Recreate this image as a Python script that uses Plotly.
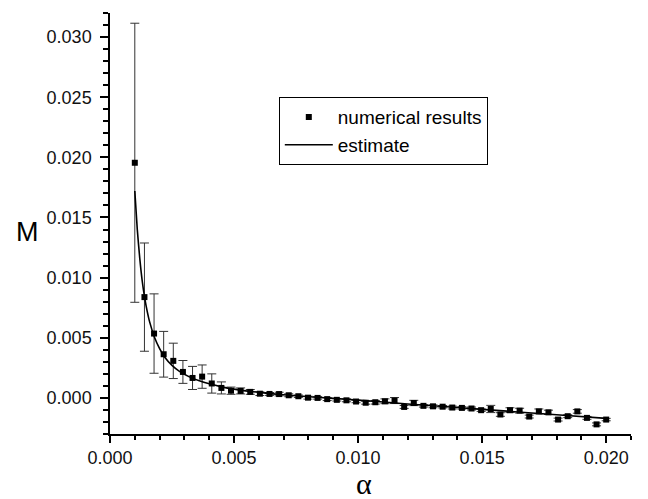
import plotly.graph_objects as go

# numerical results: alpha, M, error
alpha = [0.001000, 0.001388, 0.001776, 0.002163, 0.002551, 0.002939, 0.003327, 0.003714,
         0.004102, 0.004490, 0.004878, 0.005265, 0.005653, 0.006041, 0.006429, 0.006816,
         0.007204, 0.007592, 0.007980, 0.008367, 0.008755, 0.009143, 0.009531, 0.009918,
         0.010306, 0.010694, 0.011082, 0.011469, 0.011857, 0.012245, 0.012633, 0.013020,
         0.013408, 0.013796, 0.014184, 0.014571, 0.014959, 0.015347, 0.015735, 0.016122,
         0.016510, 0.016898, 0.017286, 0.017673, 0.018061, 0.018449, 0.018837, 0.019224,
         0.019612, 0.020000]
m_values = [0.01955, 0.00838, 0.00535, 0.00363, 0.00308, 0.00216, 0.00166, 0.00177,
            0.00120, 0.00083, 0.00060, 0.00058, 0.00050, 0.00035, 0.00033, 0.00032,
            0.00022, 0.00014, 0.00002, 0.00000, -0.00010, -0.00016, -0.00020, -0.00030,
            -0.00040, -0.00036, -0.00028, -0.00022, -0.00075, -0.00042, -0.00066, -0.00070,
            -0.00073, -0.00080, -0.00083, -0.00088, -0.00102, -0.00092, -0.00138, -0.00102,
            -0.00106, -0.00155, -0.00112, -0.00120, -0.00180, -0.00152, -0.00112, -0.00166,
            -0.00220, -0.00180]
m_errors = [0.0116, 0.0045, 0.0033, 0.0019, 0.00147, 0.00095, 0.00096, 0.00097,
            0.0008, 0.0005, 0.0003, 0.00025, 0.0002, 0.00015, 0.00012, 0.00015,
            0.00012, 0.0001, 0.00012, 0.0001, 0.00012, 0.0001, 0.00012, 0.0001,
            0.00012, 0.00015, 0.0002, 0.00025, 0.00012, 0.00022, 0.0001, 0.00012,
            0.0001, 0.00012, 0.0001, 0.00012, 0.0001, 0.0003, 0.00015, 0.0002,
            0.0002, 0.00012, 0.0002, 0.00018, 0.00012, 0.00012, 0.00015, 0.00012,
            0.00012, 0.0001]

# estimate curve
est_alpha = [0.0010, 0.0011, 0.0012, 0.0013, 0.0014, 0.0015, 0.0016, 0.0018, 0.0020,
             0.0022, 0.0025, 0.0028, 0.0032, 0.0036, 0.0040, 0.0045, 0.0050, 0.0060,
             0.0070, 0.0080, 0.0090, 0.0100, 0.0120, 0.0140, 0.0160, 0.0180, 0.0200]
est_m = [0.0172, 0.0140, 0.0116, 0.0097, 0.0083, 0.0072, 0.0063, 0.0050, 0.0041,
         0.0034, 0.0027, 0.0022, 0.00175, 0.00142, 0.00117, 0.00092, 0.00073, 0.00046,
         0.00026, 0.00010, -0.00004, -0.00018, -0.00050, -0.00080, -0.00110, -0.00140,
         -0.00170]

x_tick_vals = [0.000, 0.005, 0.010, 0.015, 0.020]
y_tick_vals = [0.000, 0.005, 0.010, 0.015, 0.020, 0.025, 0.030]

fig = go.Figure()
fig.add_trace(go.Scatter(
    x=alpha, y=m_values, mode="markers", name="numerical results",
    marker=dict(symbol="square", size=6, color="black"),
    error_y=dict(type="data", array=m_errors, visible=True, color="#333333",
                 thickness=1, width=4.5),
))
fig.add_trace(go.Scatter(
    x=est_alpha, y=est_m, mode="lines", name="estimate",
    line=dict(color="black", width=1.6, shape="spline", smoothing=0.6),
))

axis_font = dict(family="Liberation Sans, Arial", size=18, color="#111111")
fig.update_layout(
    width=648, height=499,
    margin=dict(l=102, r=25, t=5, b=73),
    plot_bgcolor="white", paper_bgcolor="white",
    showlegend=True,
    legend=dict(x=0.324, y=0.80, xanchor="left", yanchor="top",
                bordercolor="black", borderwidth=1, bgcolor="white",
                font=dict(family="Liberation Sans, Arial", size=19, color="black"),
                tracegroupgap=0, itemwidth=48),
    xaxis=dict(range=[0, 0.021], showgrid=False, zeroline=False,
               showline=True, linecolor="black", linewidth=1.5,
               tickmode="array", tickvals=x_tick_vals, tickformat=".3f",
               ticks="outside", ticklen=7, tickwidth=1.5, tickcolor="black",
               tickfont=axis_font,
               minor=dict(dtick=0.001, ticks="outside", ticklen=4, tickwidth=1.5,
                          tickcolor="black", showgrid=False)),
    yaxis=dict(range=[-0.003, 0.032], showgrid=False, zeroline=False,
               showline=True, linecolor="black", linewidth=1.5,
               tickmode="array", tickvals=y_tick_vals, tickformat=".3f",
               ticks="outside", ticklen=8, tickwidth=1.5, tickcolor="black",
               tickfont=axis_font, ticklabelstandoff=5,
               minor=dict(dtick=0.001, ticks="outside", ticklen=5, tickwidth=1.5,
                          tickcolor="black", showgrid=False)),
    annotations=[
        dict(text="M", xref="paper", yref="paper", x=-0.158, y=0.48,
             xanchor="center", yanchor="middle",
             showarrow=False, font=dict(family="Liberation Sans, Arial", size=27, color="black")),
        dict(text="α", xref="paper", yref="paper", x=0.4875, y=-0.117,
             xanchor="center", yanchor="middle",
             showarrow=False, font=dict(family="Liberation Serif, Times New Roman", size=30, color="black")),
    ],
)

fig.write_html("out.html")
